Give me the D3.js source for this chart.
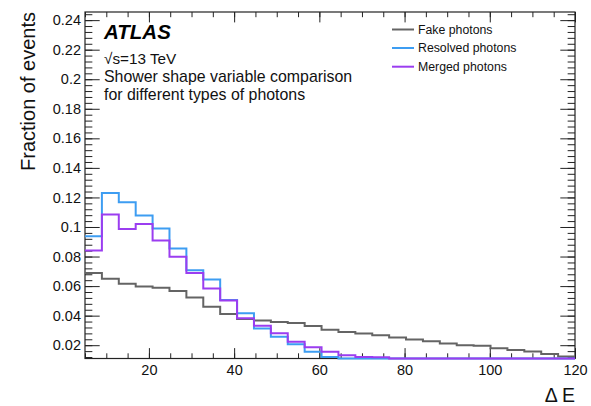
<!DOCTYPE html>
<html>
<head>
<meta charset="utf-8">
<script src="https://cdn.jsdelivr.net/npm/d3@7"></script>
<style>
  html, body { margin: 0; padding: 0; background: #fff; }
  svg { display: block; font-family: "Liberation Sans", Arial, Helvetica, sans-serif; }
</style>
</head>
<body>
<svg id="chart" width="591" height="406"></svg>
<script>
// Histogram binning of Delta E (29 equal bins between 5 and 120)
const xRange = [5, 120];
const nBins = 29;

// Normalised bin contents per photon type
const fakePhotons = [
  0.0688, 0.0650, 0.0616, 0.0598, 0.0589, 0.0566, 0.0522, 0.0460, 0.0412, 0.0378,
  0.0367, 0.0357, 0.0350, 0.0330, 0.0304, 0.0290, 0.0279, 0.0267, 0.0252, 0.0238,
  0.0227, 0.0211, 0.0200, 0.0196, 0.0180, 0.0168, 0.0157, 0.0140, 0.0124
];
const resolvedPhotons = [
  0.0937, 0.1230, 0.1168, 0.1078, 0.0990, 0.0854, 0.0708, 0.0644, 0.0506, 0.0416,
  0.0313, 0.0258, 0.0206, 0.0155, 0.0121, 0, 0, 0, 0, 0,
  0, 0, 0, 0, 0, 0, 0, 0, 0
];
const mergedPhotons = [
  0.0841, 0.1084, 0.0987, 0.1021, 0.0908, 0.0798, 0.0688, 0.0584, 0.0502, 0.0382,
  0.0331, 0.0281, 0.0224, 0.0186, 0.0155, 0.0132, 0.0120, 0.0118, 0, 0,
  0, 0, 0, 0, 0, 0, 0, 0, 0
];

const seriesNames = ["Fake photons", "Resolved photons", "Merged photons"];
const seriesColors = ["#646464", "#3d9df2", "#9b3df0"];

// Axis ticks
const yRange = [0.011, 0.2455];
const yMajorTicks = [0.02, 0.04, 0.06, 0.08, 0.1, 0.12, 0.14, 0.16, 0.18, 0.2, 0.22, 0.24];
const xMajorTicks = [20, 40, 60, 80, 100, 120];
const yTitle = "Fraction of events";
const xTitle = "\u0394 E";

const frame = { left: 85, top: 12, right: 575, bottom: 358.5 };
const W = frame.right - frame.left, H = frame.bottom - frame.top;

const svg = d3.select("#chart");
const x = d3.scaleLinear().domain(xRange).range([frame.left, frame.right]);
const y = d3.scaleLinear().domain(yRange).range([frame.bottom, frame.top]).clamp(true);

const binWidth = (xRange[1] - xRange[0]) / nBins;
const edges = d3.range(nBins + 1).map(i => xRange[0] + i * binWidth);

// minor ticks: 5 subdivisions on y, 4 on x
const yMinor = d3.range(Math.round((yRange[1]) / 0.004) + 1).map(i => +(i * 0.004).toFixed(4))
  .filter(v => v >= yRange[0] && v <= yRange[1]);
const xMinor = d3.range(0, 121, 5).filter(v => v >= xRange[0] && v <= xRange[1]);

const yTickLenMajor = 0.03 * W, xTickLenMajor = 0.03 * H;
const fmt = d => String(+d.toFixed(2));

function styleAxis(g) {
  g.select(".domain").remove();
  g.selectAll(".tick line").attr("stroke", "#222").attr("stroke-width", 1);
  g.selectAll("text").attr("fill", "#111").style("font-size", "14.5px")
    .style("font-family", '"Liberation Sans", Arial, Helvetica, sans-serif');
}

// left axis
svg.append("g").attr("transform", `translate(${frame.left},0)`)
  .call(d3.axisLeft(y).tickValues(yMinor).tickSize(-yTickLenMajor / 2).tickFormat(""))
  .call(styleAxis);
svg.append("g").attr("transform", `translate(${frame.left},0)`)
  .call(d3.axisLeft(y).tickValues(yMajorTicks).tickSize(-yTickLenMajor).tickPadding(4).tickFormat(fmt))
  .call(styleAxis);
// right axis
svg.append("g").attr("transform", `translate(${frame.right},0)`)
  .call(d3.axisRight(y).tickValues(yMinor).tickSize(-yTickLenMajor / 2).tickFormat(""))
  .call(styleAxis);
svg.append("g").attr("transform", `translate(${frame.right},0)`)
  .call(d3.axisRight(y).tickValues(yMajorTicks).tickSize(-yTickLenMajor).tickFormat(""))
  .call(styleAxis);
// bottom axis
svg.append("g").attr("transform", `translate(0,${frame.bottom})`)
  .call(d3.axisBottom(x).tickValues(xMinor).tickSize(-xTickLenMajor / 2).tickFormat(""))
  .call(styleAxis);
svg.append("g").attr("transform", `translate(0,${frame.bottom})`)
  .call(d3.axisBottom(x).tickValues(xMajorTicks).tickSize(-xTickLenMajor).tickPadding(6.5).tickFormat(d => String(d)))
  .call(styleAxis);
// top axis
svg.append("g").attr("transform", `translate(0,${frame.top})`)
  .call(d3.axisTop(x).tickValues(xMinor).tickSize(-xTickLenMajor / 2).tickFormat(""))
  .call(styleAxis);
svg.append("g").attr("transform", `translate(0,${frame.top})`)
  .call(d3.axisTop(x).tickValues(xMajorTicks).tickSize(-xTickLenMajor).tickFormat(""))
  .call(styleAxis);

// frame
svg.append("rect").attr("x", frame.left).attr("y", frame.top)
  .attr("width", W).attr("height", H)
  .attr("fill", "none").attr("stroke", "#222").attr("stroke-width", 1.2);

// histograms (empty bins sit on the lower edge of the frame)
svg.append("clipPath").attr("id", "plotClip").append("rect")
  .attr("x", frame.left).attr("y", frame.top - 2).attr("width", W).attr("height", H + 4);

const line = d3.line().x(d => x(d[0])).y(d => y(d[1])).curve(d3.curveStepAfter);
const allSeries = [fakePhotons, resolvedPhotons, mergedPhotons];
const plot = svg.append("g").attr("clip-path", "url(#plotClip)");
allSeries.forEach((vals, k) => {
  const pts = vals.map((v, i) => [edges[i], v]);
  pts.push([edges[nBins], vals[nBins - 1]]);
  plot.append("path").datum(pts)
    .attr("d", line)
    .attr("fill", "none")
    .attr("stroke", seriesColors[k])
    .attr("stroke-width", 2);
});

// axis titles
svg.append("text")
  .attr("transform", `translate(35,${frame.top}) rotate(-90)`)
  .attr("text-anchor", "end")
  .style("font-size", "20px").attr("fill", "#111")
  .text(yTitle);
svg.append("text")
  .attr("x", frame.right).attr("y", 401.5)
  .attr("text-anchor", "end")
  .style("font-size", "19.5px").attr("fill", "#111")
  .text(xTitle);

// labels
svg.append("text").attr("x", 104).attr("y", 39)
  .style("font-size", "20.5px").style("font-weight", "bold").style("font-style", "italic")
  .attr("fill", "#000").text("ATLAS");
svg.append("text").attr("x", 104).attr("y", 63.5)
  .style("font-size", "15.3px").attr("fill", "#111").text("\u221As=13 TeV");
svg.append("text").attr("x", 104).attr("y", 81.5)
  .style("font-size", "15.9px").attr("fill", "#111").text("Shower shape variable comparison");
svg.append("text").attr("x", 104).attr("y", 99.5)
  .style("font-size", "15.9px").attr("fill", "#111").text("for different types of photons");

// legend
const legendRows = [29.5, 48, 66.7];
const legend = svg.append("g");
seriesNames.forEach((name, k) => {
  legend.append("line")
    .attr("x1", 392).attr("x2", 414)
    .attr("y1", legendRows[k]).attr("y2", legendRows[k])
    .attr("stroke", seriesColors[k]).attr("stroke-width", 2);
  legend.append("text")
    .attr("x", 418).attr("y", legendRows[k]).attr("dy", "0.36em")
    .style("font-size", "12.3px").attr("fill", "#111").text(name);
});
</script>
</body>
</html>
